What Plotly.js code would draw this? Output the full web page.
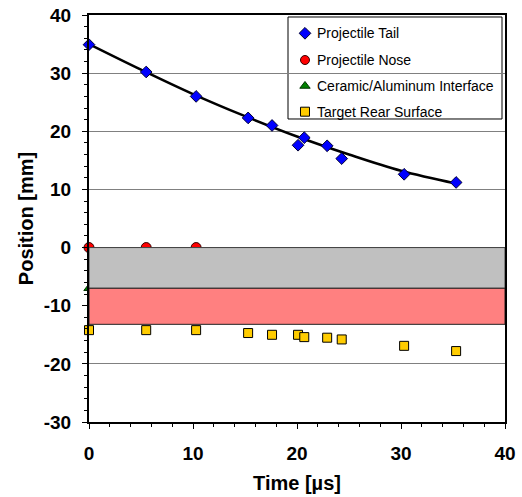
<!DOCTYPE html>
<html>
<head>
<meta charset="utf-8">
<script src="https://cdn.plot.ly/plotly-3.0.1.min.js"></script>
<style>html,body{margin:0;padding:0;background:#fff;}#chart{width:522px;height:497px;}</style>
</head>
<body>
<div id="chart"></div>
<script>
// Data
const tailTime = [0, 5.5, 10.3, 15.3, 17.6, 20.1, 20.7, 22.9, 24.3, 30.3, 35.3];
const tailPos  = [34.9, 30.2, 26.0, 22.3, 21.0, 17.6, 18.9, 17.5, 15.3, 12.6, 11.2];

const fitTime = [0, 5, 10, 15, 20, 25, 30, 35.3];
const fitPos  = [35.0, 30.6, 26.4, 22.6, 19.1, 16.0, 13.2, 11.0];

const noseTime = [0, 5.5, 10.3];
const nosePos  = [0, 0, 0];

const interTime = [0, 5.5, 10.3];
const interPos  = [-7, -7, -7];

const rearTime = [0, 5.5, 10.3, 15.3, 17.6, 20.1, 20.7, 22.9, 24.3, 30.3, 35.3];
const rearPos  = [-14.2, -14.2, -14.2, -14.7, -15.0, -15.0, -15.4, -15.5, -15.8, -16.9, -17.8];

// Target layer bands (mm)
const ceramicBand  = [0, -7];
const aluminumBand = [-7, -13.2];

// Tick labels
const xTickVals = [0, 10, 20, 30, 40];
const xTickText = ['0', '10', '20', '30', '40'];
const yTickVals = [-30, -20, -10, 0, 10, 20, 30, 40];
const yTickText = ['-30', '-20', '-10', '0', '10', '20', '30', '40'];

// Legend entries
const legendNames = ['Projectile Tail', 'Projectile Nose', 'Ceramic/Aluminum Interface', 'Target Rear Surface'];
const legendSymbols = ['diamond', 'circle', 'triangle-up', 'square'];
const legendColors = ['#0000ff', '#ff0000', '#008000', '#ffcc00'];
const legendEdges = ['#000033', '#330000', '#003300', '#000000'];

const font = 'Arial, "Liberation Sans", sans-serif';

// legend geometry (paper fractions of the plot area)
const legX0 = 0.4784, legX1 = 0.9928, legY0 = 0.7445, legY1 = 0.9951;
const legMarkX = 0.5192, legTextX = 0.5433;
const legRowY = [0.955, 0.8894, 0.8256, 0.7624];

const traces = [
  {x: fitTime, y: fitPos, mode: 'lines', line: {color: '#000', width: 2.5, shape: 'spline'},
   showlegend: false, hoverinfo: 'skip'},
  {x: tailTime, y: tailPos, mode: 'markers', name: legendNames[0], showlegend: false,
   marker: {symbol: 'diamond', size: 9, color: legendColors[0], line: {color: legendEdges[0], width: 1}}, cliponaxis: false},
  {x: noseTime, y: nosePos, mode: 'markers', name: legendNames[1], showlegend: false,
   marker: {symbol: 'circle', size: 10, color: legendColors[1], line: {color: legendEdges[1], width: 1}}, cliponaxis: false},
  {x: interTime, y: interPos, mode: 'markers', name: legendNames[2], showlegend: false,
   marker: {symbol: 'triangle-up', size: 9, color: legendColors[2], line: {color: legendEdges[2], width: 1}}, cliponaxis: false},
  {x: rearTime, y: rearPos, mode: 'markers', name: legendNames[3], showlegend: false,
   marker: {symbol: 'square', size: 9, color: legendColors[3], line: {color: legendEdges[3], width: 1}}, cliponaxis: false},
  // legend symbols
  {x: legendNames.map(() => legMarkX), y: legRowY, xaxis: 'x2', yaxis: 'y2', mode: 'markers', showlegend: false,
   hoverinfo: 'skip', cliponaxis: false,
   marker: {symbol: legendSymbols, size: 9, color: legendColors, line: {color: legendEdges, width: 1}}}
];

const annotations = legendNames.map((n, i) => ({
  xref: 'paper', yref: 'paper', x: legTextX, y: legRowY[i], xanchor: 'left', yanchor: 'middle',
  text: n, showarrow: false, font: {family: font, size: 14, color: '#000'}
}));

const layout = {
  width: 522, height: 497,
  margin: {l: 89, r: 17, t: 15, b: 75},
  paper_bgcolor: '#fff', plot_bgcolor: '#fff',
  font: {family: font, color: '#000'},
  showlegend: false,
  xaxis: {
    range: [0, 40], tickvals: xTickVals, ticktext: xTickText.map(t => '<b>' + t + '</b>'),
    showgrid: false, zeroline: false,
    showline: true, linecolor: '#000', linewidth: 2, mirror: true,
    ticks: 'outside', ticklen: 5, tickwidth: 1, tickcolor: '#000', ticklabelstandoff: 8,
    minor: {dtick: 2, ticks: 'outside', ticklen: 3, tickcolor: '#000', showgrid: false},
    tickfont: {family: font, size: 19, color: '#000'},
    title: {text: '<b>Time [µs]</b>', font: {family: font, size: 20, color: '#000'}, standoff: 13},
    layer: 'above traces'
  },
  yaxis: {
    range: [-30, 40], tickvals: yTickVals, ticktext: yTickText.map(t => '<b>' + t + '</b>'),
    showgrid: true, gridcolor: '#808080', gridwidth: 1, zeroline: false,
    showline: true, linecolor: '#000', linewidth: 2, mirror: true,
    ticks: 'outside', ticklen: 5, tickwidth: 1, tickcolor: '#000', ticklabelstandoff: 7,
    minor: {dtick: 2, ticks: 'outside', ticklen: 3, tickcolor: '#000', showgrid: false},
    tickfont: {family: font, size: 19, color: '#000'},
    title: {text: '<b>Position [mm]</b>', font: {family: font, size: 20, color: '#000'}, standoff: 5},
    layer: 'above traces'
  },
  xaxis2: {overlaying: 'x', range: [0, 1], visible: false, fixedrange: true},
  yaxis2: {overlaying: 'y', range: [0, 1], visible: false, fixedrange: true},
  annotations: annotations,
  shapes: [
    {type: 'rect', xref: 'x', yref: 'y', x0: 0, x1: 40, y0: ceramicBand[0], y1: ceramicBand[1],
     fillcolor: '#c0c0c0', line: {color: '#404040', width: 1}, layer: 'above'},
    {type: 'rect', xref: 'x', yref: 'y', x0: 0, x1: 40, y0: aluminumBand[0], y1: aluminumBand[1],
     fillcolor: '#ff8080', line: {color: '#202020', width: 1}, layer: 'above'},
    {type: 'rect', xref: 'paper', yref: 'paper', x0: legX0, x1: legX1, y0: legY0, y1: legY1,
     fillcolor: '#fff', line: {color: '#000', width: 1}, layer: 'between'}
  ]
};

Plotly.newPlot('chart', traces, layout, {displayModeBar: false, staticPlot: true});
</script>
</body>
</html>
